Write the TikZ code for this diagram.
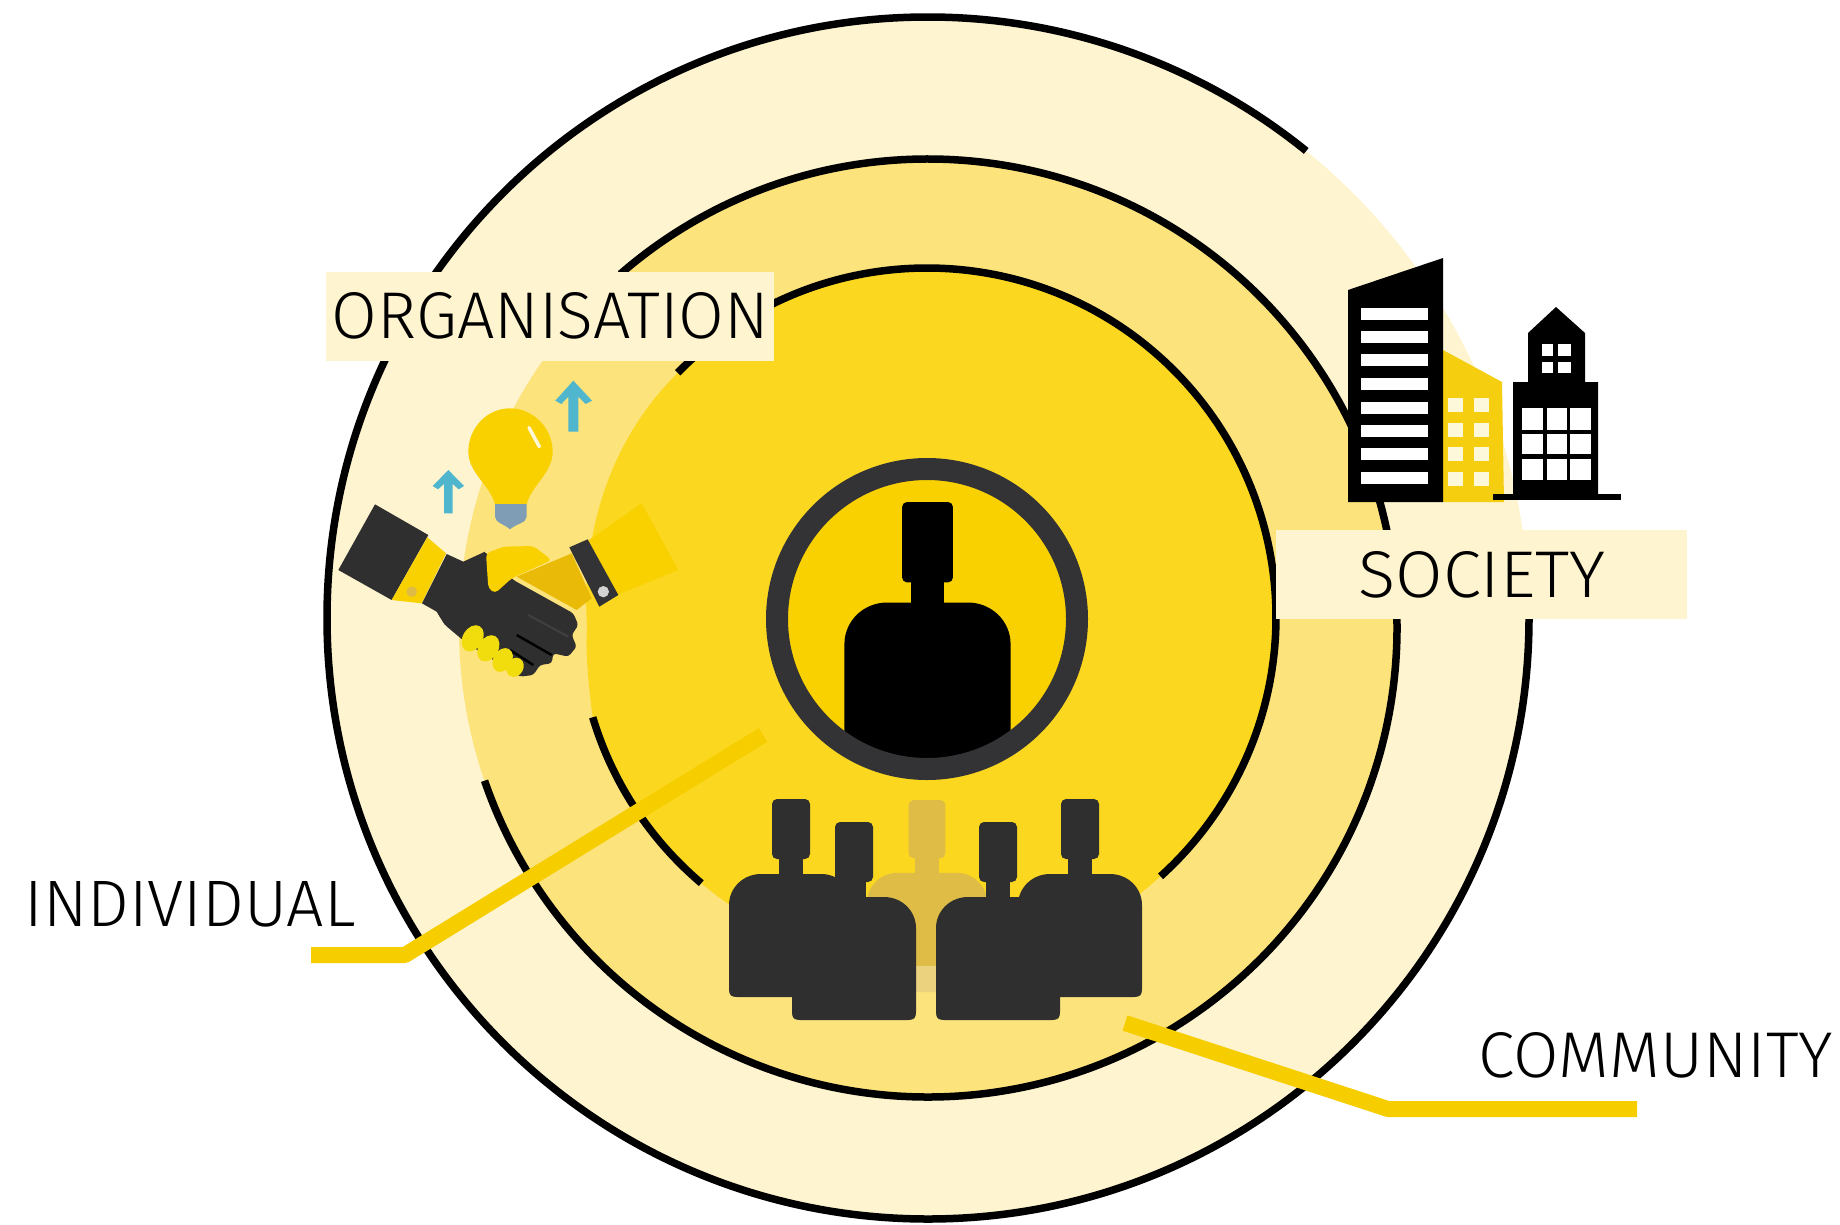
\documentclass[tikz,border=0pt]{standalone}
\usepackage{fontspec}
\usepackage{graphicx}
\usetikzlibrary{calc}
\newfontfamily\labfont{Fira Sans Light}
\definecolor{paleY}{HTML}{FEF4CF}
\definecolor{midY}{HTML}{FDE37C}
\definecolor{innerY}{HTML}{FBD81F}
\definecolor{coreY}{HTML}{F9D100}
\definecolor{darkG}{HTML}{2F2F2F}
\definecolor{ringG}{HTML}{333336}
\definecolor{lineY}{HTML}{F6CE00}
\definecolor{ghostA}{HTML}{DFBC45}
\definecolor{ghostB}{HTML}{EBD27F}
\definecolor{arrowB}{HTML}{4FB6CE}
\definecolor{bulbB}{HTML}{7F9DB5}
\definecolor{sleeveY}{HTML}{E9BB08}
\definecolor{fingerY}{HTML}{F1DC0E}
\definecolor{bldY}{HTML}{F5CE10}
\definecolor{winY}{HTML}{FEF8DA}
\tikzset{
  ringline/.style={line width=7.5pt,black,line cap=butt},
  labelbox/.style={fill=paleY,inner sep=0pt},
  labeltext/.style={inner sep=0pt,text=black},
  leader/.style={line width=16pt,lineY,line join=round},
}
\newcommand{\personshape}[4]{%
  \begin{scope}[shift={(#1,#2)},scale=#3]
    \fill[#4,rounded corners=5pt] (-19,0) -- (19,0) -- (19,60) -- (-19,60) -- cycle;
    \fill[#4] (-12,55) rectangle (12,80);
    \fill[#4] (-62,106) .. controls (-62,89) and (-48,75) .. (-30,75) -- (30,75)
      .. controls (48,75) and (62,89) .. (62,106) -- (62,190)
      .. controls (62,196) and (60,198) .. (54,198) -- (-54,198)
      .. controls (-60,198) and (-62,196) .. (-62,190) -- cycle;
  \end{scope}}
\begin{document}
\begin{tikzpicture}[x=1pt,y=-1pt]
\useasboundingbox (0,0) rectangle (1840,1224);
% discs
\fill[paleY] (928,618) circle [radius=601];
\fill[midY] (928,628) circle [radius=469];
\fill[innerY] ($(927,617)+(224.4:349)$) arc [start angle=224.4,end angle=523.3,radius=349]
   .. controls (589,690) and (585,650) .. (587,627)
   .. controls (582,550) and (600,450) .. ($(927,617)+(224.4:349)$) -- cycle;
% rings
\draw[ringline] ($(928,618)+(0:601)$) arc [start angle=0,end angle=309,radius=601];
\draw[ringline] ($(928,628)+(229:469)$) arc [start angle=229,end angle=521,radius=469];
\draw[ringline] ($(927,617)+(224.4:349)$) arc [start angle=224.4,end angle=408,radius=349];
\draw[ringline] ($(927,617)+(130.3:349)$) arc [start angle=130.3,end angle=163.3,radius=349];
% ghost person behind the group
\begin{scope}
\clip (927,617) circle [radius=349];
\personshape{927}{800}{0.97}{ghostA}
\end{scope}
\begin{scope}
\clip (880,966) rectangle (975,993);
\personshape{927}{800}{0.97}{ghostB}
\end{scope}
% centre
\fill[coreY] (927,619) circle [radius=150];
\begin{scope}
\clip (927,619) circle [radius=150];
\personshape{927.5}{502}{1.34}{black}
\end{scope}
\draw[ringG,line width=22pt] (927,619) circle [radius=150];
% group
\personshape{791}{799}{1}{darkG}
\personshape{854}{822}{1}{darkG}
\personshape{998}{822}{1}{darkG}
\personshape{1080}{799}{1}{darkG}
% handshake, bulb, arrows (drawn in 3x crop units)
\begin{scope}[shift={(320,260)},scale=0.33333]
  % arrows
  \fill[arrowB] (760,362) -- (816,422) -- (797,432) -- (775,410) -- (775,515) -- (745,515) -- (745,410) -- (724,432) -- (706,422) -- cycle;
  \fill[arrowB] (385,630) -- (432,678) -- (416,688) -- (398,672) -- (398,760) -- (372,760) -- (372,672) -- (354,688) -- (338,678) -- cycle;
  % bulb
  \fill[coreY] (570,445) .. controls (640,445) and (698,505) .. (698,575)
     .. controls (698,640) and (630,680) .. (620,735) -- (525,735)
     .. controls (515,680) and (445,640) .. (445,575)
     .. controls (445,505) and (500,445) .. (570,445) -- cycle;
  \fill[bulbB] (525,732) -- (620,732) -- (620,770) .. controls (618,790) and (590,790) .. (570,808)
     .. controls (550,790) and (527,790) .. (525,770) -- cycle;
  \draw[white,line width=3.5pt,line cap=round,opacity=.85] (627,503) -- (658,560);
  % right sleeve and cuff
  \fill[coreY] (800,845) -- (965,730) -- (1075,930) -- (890,1005) -- cycle;
  \fill[sleeveY] (590,950) -- (755,880) -- (815,1015) -- (770,1050) -- cycle;
  \fill[ringG] (748,862) -- (803,838) -- (895,1005) -- (838,1040) -- cycle;
  \fill[gray!35] (850,995) circle [radius=17];
  % left sleeve and cuff
  \fill[darkG] (165,733) -- (325,825) -- (215,1020) -- (55,930) -- cycle;
  \fill[coreY] (322,832) -- (378,880) -- (305,1030) -- (215,1020) -- cycle;
  \fill[ghostA] (275,995) circle [radius=16];
  % dark hand
  \fill[darkG] (380,882) -- (430,905) -- (495,875) -- (520,1000) -- (375,1095) -- (350,1055) -- (306,1030) -- cycle;
  \fill[darkG,rounded corners=3pt] (495,875) -- (520,900) -- (580,960)
     -- (760,1060) -- (775,1095) -- (755,1125) -- (770,1160) -- (745,1190) -- (700,1180)
     -- (695,1210) -- (660,1215) -- (640,1245) -- (600,1250) -- (440,1150) -- (375,1095)
     -- (350,1055) -- cycle;
  \draw[black!75,line width=2pt] (625,1065) -- (745,1130);
  \draw[black,line width=2.5pt] (590,1125) -- (695,1185);
  \draw[black,line width=2.5pt] (570,1170) -- (640,1215);
  % yellow thumb
  \fill[coreY,rounded corners=4pt] (498,880) -- (550,860) -- (640,858) -- (695,900) -- (575,955) -- (525,1000) -- (505,985) -- cycle;
  % fingers
  \fill[fingerY,rotate around={-30:(458,1135)}] (458,1135) ellipse [x radius=30,y radius=42];
  \fill[fingerY,rotate around={-30:(505,1165)}] (505,1165) ellipse [x radius=30,y radius=42];
  \fill[fingerY,rotate around={-30:(548,1200)}] (548,1200) ellipse [x radius=28,y radius=38];
  \fill[fingerY,rotate around={-30:(585,1222)}] (585,1222) ellipse [x radius=25,y radius=30];
\end{scope}
% buildings
\fill[bldY] (1443,350) -- (1502,382) -- (1504,502) -- (1443,502) -- cycle;
\foreach \y in {398,423,447,472}{
  \fill[winY] (1448,\y) rectangle (1463,\y+14);
  \fill[winY] (1474,\y) rectangle (1489,\y+14);
}
\fill[black] (1348,290) -- (1443,258) -- (1443,502) -- (1348,502) -- cycle;
\foreach \y in {313.5,337,360,384,407.5,431,454,478}{
  \fill[white] (1361,\y-6) rectangle (1428,\y+6);
}
\fill[black] (1513,382) -- (1528,382) -- (1528,333) -- (1556,307) -- (1585,333) -- (1585,382) -- (1598,382) -- (1598,497) -- (1513,497) -- cycle;
\fill[black] (1493,494) rectangle (1621,500);
\foreach \yy/\h in {408/22,434/20,459/21}{
  \fill[white] (1522,\yy) rectangle (1543,\yy+\h);
  \fill[white] (1547,\yy) rectangle (1567,\yy+\h);
  \fill[white] (1570,\yy) rectangle (1591,\yy+\h);
}
\foreach \yy/\h in {344/12,362/11}{
  \fill[white] (1542,\yy) rectangle (1553,\yy+\h);
  \fill[white] (1558,\yy) rectangle (1571,\yy+\h);
}
% leaders
\coordinate (indA) at (311,955);
\coordinate (indB) at (405,955);
\coordinate (indC) at (763,735);
\coordinate (comA) at (1125,1023);
\coordinate (comB) at (1388,1109);
\coordinate (comC) at (1637,1109);
\draw[leader] (indA) -- (indB) -- (indC);
\draw[leader] (comA) -- (comB) -- (comC);
% labels
\node[labelbox,minimum width=448pt,minimum height=89pt] (orgbox) at (550,316.5) {};
\node[labelbox,minimum width=411pt,minimum height=89pt] (socbox) at (1481.5,574.5) {};
\node[labeltext] (org) at (550.5,315.5) {\resizebox{437pt}{46pt}{\labfont ORGANISATION}};
\node[labeltext] (soc) at (1482,574.5) {\resizebox{247pt}{46pt}{\labfont SOCIETY}};
\node[labeltext] (ind) at (190,904.5) {\resizebox{331pt}{45pt}{\labfont INDIVIDUAL}};
\node[labeltext] (com) at (1656,1055) {\resizebox{354pt}{45pt}{\labfont COMMUNITY}};
\end{tikzpicture}
\end{document}
